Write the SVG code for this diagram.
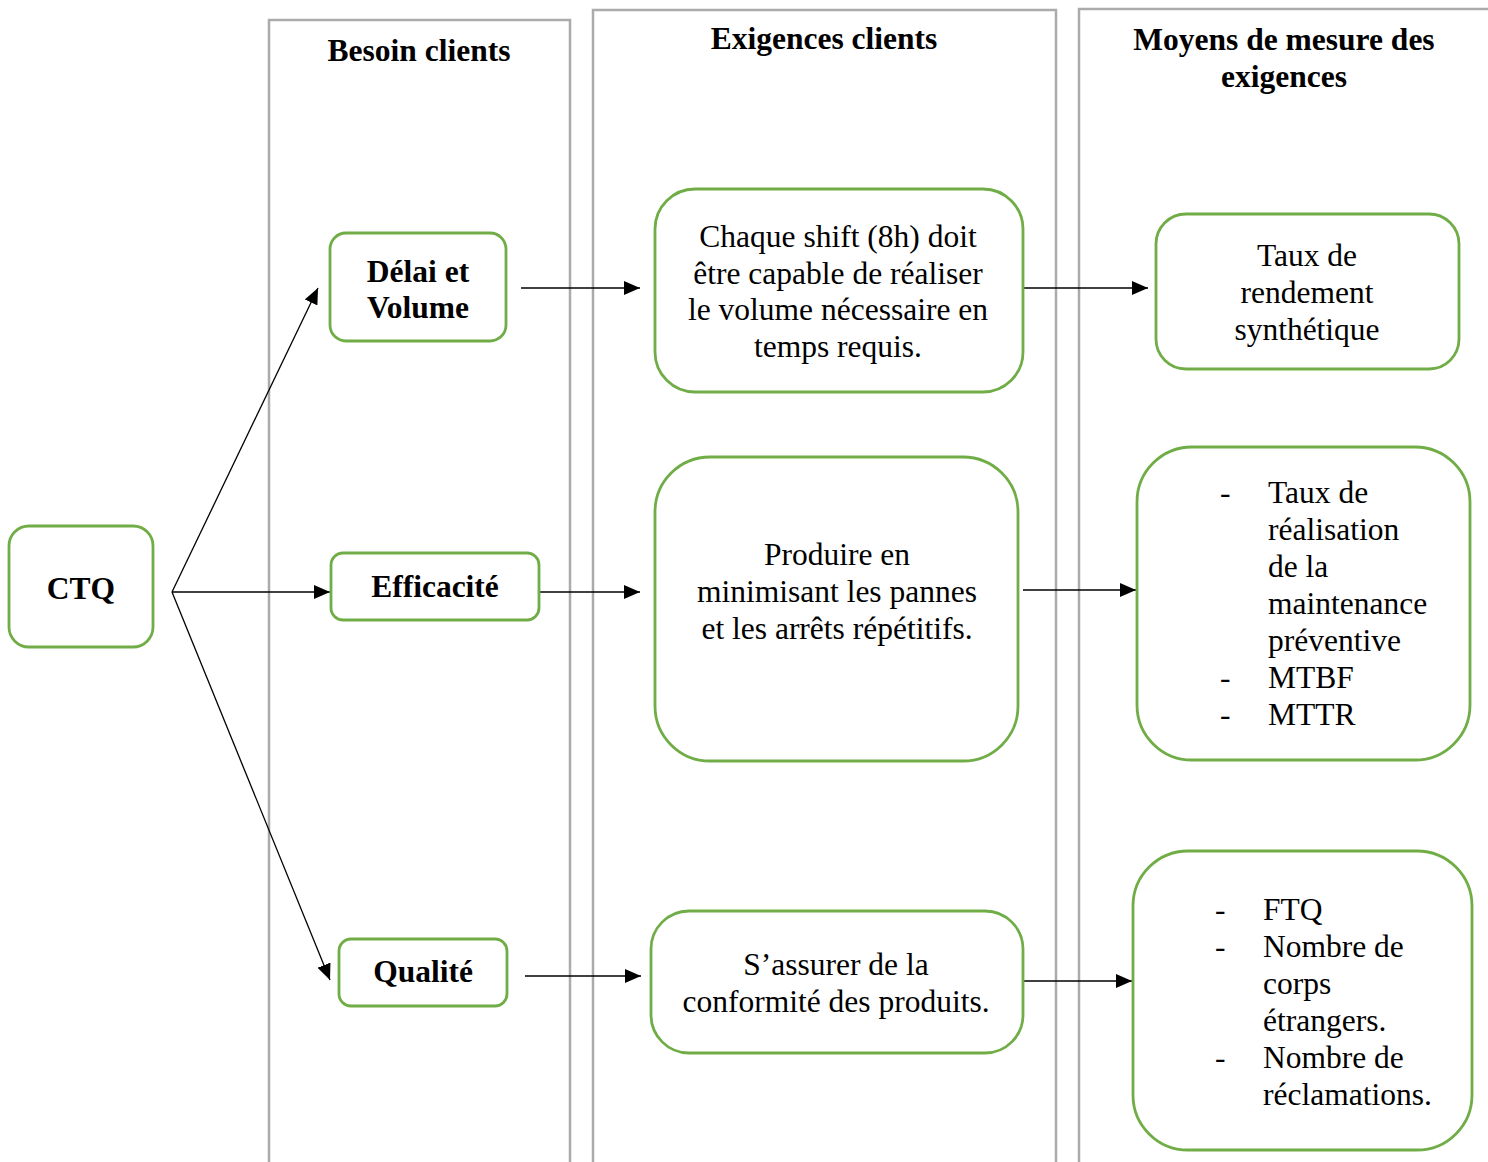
<svg xmlns="http://www.w3.org/2000/svg" width="1488" height="1162" viewBox="0 0 1488 1162">
  <style>
    .panel { fill: none; stroke: #ababab; stroke-width: 2.5; }
    .node { fill: #ffffff; stroke: #70ad47; stroke-width: 2.8; }
    .head { font-family: "Liberation Serif", "Times New Roman", serif; font-weight: bold; font-size: 31.5px; fill: #000; text-anchor: middle; }
    .lbl { font-family: "Liberation Serif", "Times New Roman", serif; font-weight: bold; font-size: 31.5px; fill: #000; text-anchor: middle; }
    .txt { font-family: "Liberation Serif", "Times New Roman", serif; font-size: 31.5px; fill: #000; text-anchor: middle; }
    .lst { font-family: "Liberation Serif", "Times New Roman", serif; font-size: 31.5px; fill: #000; }
    .edge { fill: none; stroke: #000; stroke-width: 1.3; marker-end: url(#arrow); }
  </style>
  <defs>
    <marker id="arrow" markerUnits="userSpaceOnUse" markerWidth="16" markerHeight="14" refX="16" refY="7" orient="auto">
      <path d="M0,0 L16,7 L0,14 z" fill="#000"/>
    </marker>
  </defs>

  <rect width="1488" height="1162" fill="#ffffff"/>

  <!-- column panels (open at the bottom) -->
  <g id="columns">
    <path class="panel" d="M269,1162 V20 H570 V1162"/>
    <path class="panel" d="M593,1162 V10 H1056 V1162"/>
    <path class="panel" d="M1079,1162 V9 H1500"/>
    <text class="head" x="419" y="61">Besoin clients</text>
    <text class="head" x="824" y="49">Exigences clients</text>
    <text class="head" x="1284" y="50">Moyens de mesure des</text>
    <text class="head" x="1284" y="87">exigences</text>
  </g>

  <!-- connectors -->
  <g id="connectors">
    <line class="edge" x1="172" y1="592" x2="318" y2="288"/>
    <line class="edge" x1="172" y1="592" x2="330" y2="592"/>
    <line class="edge" x1="172" y1="592" x2="330" y2="980"/>
    <line class="edge" x1="521" y1="288" x2="640" y2="288"/>
    <line class="edge" x1="521" y1="592" x2="640" y2="592"/>
    <line class="edge" x1="525" y1="976" x2="641" y2="976"/>
    <line class="edge" x1="1023" y1="288" x2="1148" y2="288"/>
    <line class="edge" x1="1023" y1="590" x2="1136" y2="590"/>
    <line class="edge" x1="1023" y1="981" x2="1132" y2="981"/>
  </g>

  <g id="ctq">
    <rect class="node" x="9" y="526" width="144" height="121" rx="20"/>
    <text class="lbl" x="81" y="599">CTQ</text>
  </g>

  <g id="delai-volume">
    <rect class="node" x="330" y="233" width="176" height="108" rx="16"/>
    <text class="lbl" x="418" y="282">Délai et</text>
    <text class="lbl" x="418" y="318">Volume</text>
  </g>

  <g id="efficacite">
    <rect class="node" x="331" y="553" width="208" height="67" rx="12"/>
    <text class="lbl" x="435" y="597">Efficacité</text>
  </g>

  <g id="qualite">
    <rect class="node" x="339" y="939" width="168" height="67" rx="12"/>
    <text class="lbl" x="423" y="982">Qualité</text>
  </g>

  <g id="exigence-volume">
    <rect class="node" x="655" y="189" width="368" height="203" rx="40"/>
    <text class="txt" x="838" y="247">Chaque shift (8h) doit</text>
    <text class="txt" x="838" y="284">être capable de réaliser</text>
    <text class="txt" x="838" y="320">le volume nécessaire en</text>
    <text class="txt" x="838" y="357">temps requis.</text>
  </g>

  <g id="exigence-pannes">
    <rect class="node" x="655" y="457" width="363" height="304" rx="55"/>
    <text class="txt" x="837" y="565">Produire en</text>
    <text class="txt" x="837" y="602">minimisant les pannes</text>
    <text class="txt" x="837" y="639">et les arrêts répétitifs.</text>
  </g>

  <g id="exigence-conformite">
    <rect class="node" x="651" y="911" width="372" height="142" rx="38"/>
    <text class="txt" x="836" y="975">S’assurer de la</text>
    <text class="txt" x="836" y="1012">conformité des produits.</text>
  </g>

  <g id="mesure-trs">
    <rect class="node" x="1156" y="214" width="303" height="155" rx="30"/>
    <text class="txt" x="1307" y="266">Taux de</text>
    <text class="txt" x="1307" y="303">rendement</text>
    <text class="txt" x="1307" y="340">synthétique</text>
  </g>

  <g id="mesure-maintenance">
    <rect class="node" x="1137" y="447" width="333" height="313" rx="55"/>
    <text class="lst" x="1220" y="503">-</text>
    <text class="lst" x="1268" y="503">Taux de</text>
    <text class="lst" x="1268" y="540">réalisation</text>
    <text class="lst" x="1268" y="577">de la</text>
    <text class="lst" x="1268" y="614">maintenance</text>
    <text class="lst" x="1268" y="651">préventive</text>
    <text class="lst" x="1220" y="688">-</text>
    <text class="lst" x="1268" y="688">MTBF</text>
    <text class="lst" x="1220" y="725">-</text>
    <text class="lst" x="1268" y="725">MTTR</text>
  </g>

  <g id="mesure-qualite">
    <rect class="node" x="1133" y="851" width="339" height="299" rx="55"/>
    <text class="lst" x="1215" y="920">-</text>
    <text class="lst" x="1263" y="920">FTQ</text>
    <text class="lst" x="1215" y="957">-</text>
    <text class="lst" x="1263" y="957">Nombre de</text>
    <text class="lst" x="1263" y="994">corps</text>
    <text class="lst" x="1263" y="1031">étrangers.</text>
    <text class="lst" x="1215" y="1068">-</text>
    <text class="lst" x="1263" y="1068">Nombre de</text>
    <text class="lst" x="1263" y="1105">réclamations.</text>
  </g>
</svg>
